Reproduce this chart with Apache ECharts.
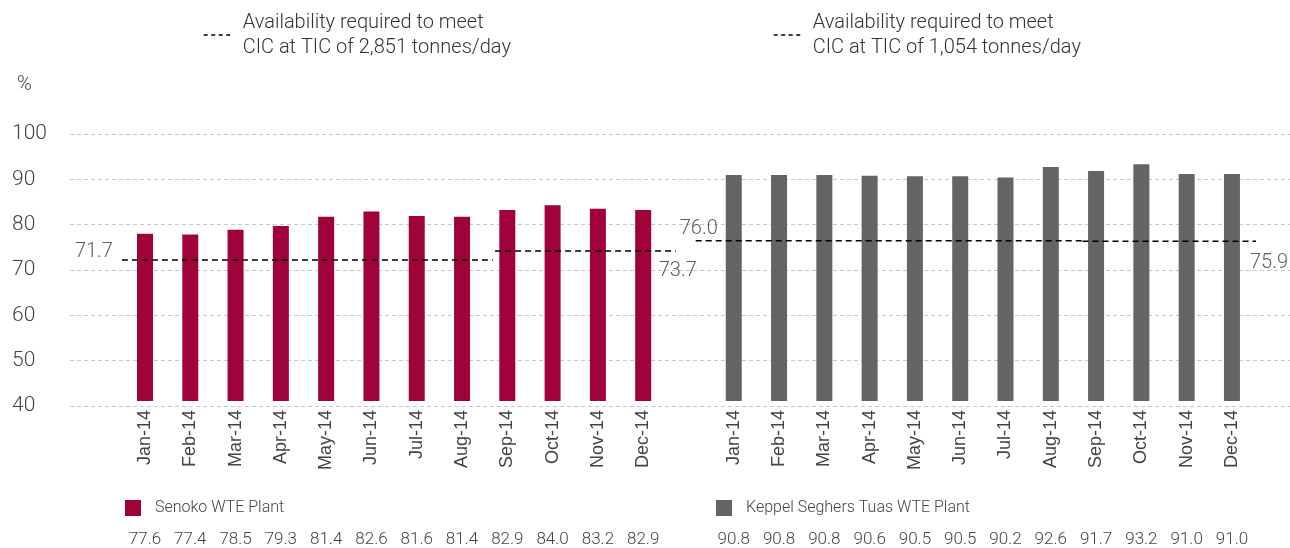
<!DOCTYPE html>
<html>
<head>
<meta charset="utf-8">
<script src="https://cdn.jsdelivr.net/npm/echarts@6/dist/echarts.min.js"></script>
<style>html,body{margin:0;padding:0;background:#fff}#c{width:1290px;height:548px}</style>
</head>
<body>
<div id="c"></div>
<script>
// ---- data ----
const months = ['Jan-14','Feb-14','Mar-14','Apr-14','May-14','Jun-14','Jul-14','Aug-14','Sep-14','Oct-14','Nov-14','Dec-14'];
const senokoName = 'Senoko WTE Plant';
const keppelName = 'Keppel Seghers Tuas WTE Plant';
const senoko = [77.6, 77.4, 78.5, 79.3, 81.4, 82.6, 81.6, 81.4, 82.9, 84.0, 83.2, 82.9];
const keppel = [90.8, 90.8, 90.8, 90.6, 90.5, 90.5, 90.2, 92.6, 91.7, 93.2, 91.0, 91.0];
const senokoReqName = 'Availability required to meet CIC at TIC of 2,851 tonnes/day';
const keppelReqName = 'Availability required to meet CIC at TIC of 1,054 tonnes/day';
// required availability levels and the span (in category units) each applies over
const senokoReq = [71.7, 73.7];
const senokoReqSpan = [[-0.73, 7.68], [7.73, 11.72]];
const keppelReq = [76.0, 75.9];
const keppelReqSpan = [[12.16, 20.7], [20.7, 24.73]];
const yTicks = [40, 50, 60, 70, 80, 90, 100];

// ---- build ----
const gap = [''];
const axisCats = months.concat(gap, months);
const tableRow = senoko.map(v => v.toFixed(1)).concat(gap, keppel.map(v => v.toFixed(1)));
const nulls = n => Array(n).fill(null);
const senokoData = senoko.concat(nulls(1 + keppel.length));
const keppelData = nulls(senoko.length + 1).concat(keppel);

const FONT = 'Roboto';
const dashLine = {color: '#000', width: 1.4, type: [6, 4]};

function seg(name, level, span) {
  return {
    type: 'line', name: name, xAxisIndex: 3, yAxisIndex: 1,
    symbol: 'none', clip: false, silent: true, z: 5,
    itemStyle: {color: '#000'},
    lineStyle: dashLine,
    data: [[span[0], level], [span[1], level]]
  };
}

const labelPts = [
  {value: [senokoReqSpan[0][0], senokoReq[0]], label: {position: 'top', offset: [-18, 7]}},
  {value: [senokoReqSpan[1][1], senokoReq[1]], label: {position: 'bottom', offset: [2, 5]}},
  {value: [keppelReqSpan[0][0], keppelReq[0]], label: {position: 'top', offset: [3, 3]}},
  {value: [keppelReqSpan[1][1], keppelReq[1]], label: {position: 'bottom', offset: [4, 7]}}
];

const topLegend = (name, left) => ({
  data: [name], left: left, top: 10, padding: 0, orient: 'horizontal',
  itemWidth: 29, itemHeight: 14, selectedMode: false,
  formatter: n => n.replace(' CIC', '\nCIC'),
  itemStyle: {opacity: 0},
  lineStyle: {type: [4, 3.5], width: 1.4, color: '#000'},
  textStyle: {fontFamily: FONT, fontWeight: 300, fontSize: 20, lineHeight: 25, color: '#333', padding: [0, 0, 0, 5]}
});
const botLegend = (name, left) => ({
  data: [name], left: left, top: 500, padding: 0, icon: 'rect',
  itemWidth: 16, itemHeight: 16, selectedMode: false,
  textStyle: {fontFamily: FONT, fontWeight: 300, fontSize: 16, color: '#444', padding: [0, 0, 0, 9]}
});

const chart = echarts.init(document.getElementById('c'), null, {renderer: 'canvas'});
chart.setOption({
  animation: false,
  backgroundColor: '#fff',
  textStyle: {fontFamily: FONT},
  title: {text: '%', left: 12, top: 70, textStyle: {fontFamily: FONT, fontWeight: 300, fontSize: 20, color: '#444'}},
  legend: [
    topLegend(senokoReqName, 203),
    topLegend(keppelReqName, 773),
    botLegend(senokoName, 125),
    botLegend(keppelName, 716)
  ],
  grid: [
    {left: 70, right: 0, top: 134, bottom: 142},
    {left: 122.35, right: 35.4, top: 134, bottom: 142}
  ],
  yAxis: [
    {gridIndex: 0, type: 'value', min: yTicks[0], max: yTicks[yTicks.length - 1], interval: 10,
     axisLine: {show: false}, axisTick: {show: false},
     splitLine: {show: true, lineStyle: {color: '#c8c8c8', width: 1, type: [4, 3]}},
     axisLabel: {margin: 58, align: 'left', verticalAlign: 'middle', padding: [0, 0, 14, 0],
                 fontFamily: FONT, fontWeight: 300, fontSize: 21, color: '#444'}},
    {gridIndex: 1, type: 'value', min: yTicks[0], max: yTicks[yTicks.length - 1], interval: 10, show: false}
  ],
  xAxis: [
    {gridIndex: 0, type: 'value', min: 0, max: 1, show: false},
    {gridIndex: 1, type: 'category', data: axisCats, position: 'bottom',
     axisLine: {show: false}, axisTick: {show: false}, splitLine: {show: false},
     axisLabel: {interval: 0, rotate: 90, margin: 9, fontFamily: 'Liberation Sans', fontSize: 18, color: '#444'}},
    {gridIndex: 1, type: 'category', data: tableRow, position: 'bottom', offset: 126,
     axisLine: {show: false}, axisTick: {show: false}, splitLine: {show: false},
     axisLabel: {interval: 0, margin: 4, fontFamily: FONT, fontWeight: 300, fontSize: 17, color: '#444'}},
    {gridIndex: 1, type: 'value', min: -0.5, max: 24.5, show: false}
  ],
  series: [
    {type: 'bar', name: senokoName, xAxisIndex: 1, yAxisIndex: 1, data: senokoData,
     barWidth: 16, barGap: '-100%', itemStyle: {color: '#A0033C'}, silent: true},
    {type: 'bar', name: keppelName, xAxisIndex: 1, yAxisIndex: 1, data: keppelData,
     barWidth: 16, barGap: '-100%', itemStyle: {color: '#646464'}, silent: true},
    seg(senokoReqName, senokoReq[0], senokoReqSpan[0]),
    seg(senokoReqName, senokoReq[1], senokoReqSpan[1]),
    seg(keppelReqName, keppelReq[0], keppelReqSpan[0]),
    seg(keppelReqName, keppelReq[1], keppelReqSpan[1]),
    {type: 'scatter', name: 'labels', xAxisIndex: 3, yAxisIndex: 1, symbolSize: 0, silent: true, z: 6,
     clip: false,
     itemStyle: {color: 'transparent'},
     label: {show: true, distance: 5, fontFamily: FONT, fontWeight: 300, fontSize: 20, color: '#333',
             formatter: p => p.value[1].toFixed(1)},
     data: labelPts}
  ]
});
</script>
</body>
</html>
